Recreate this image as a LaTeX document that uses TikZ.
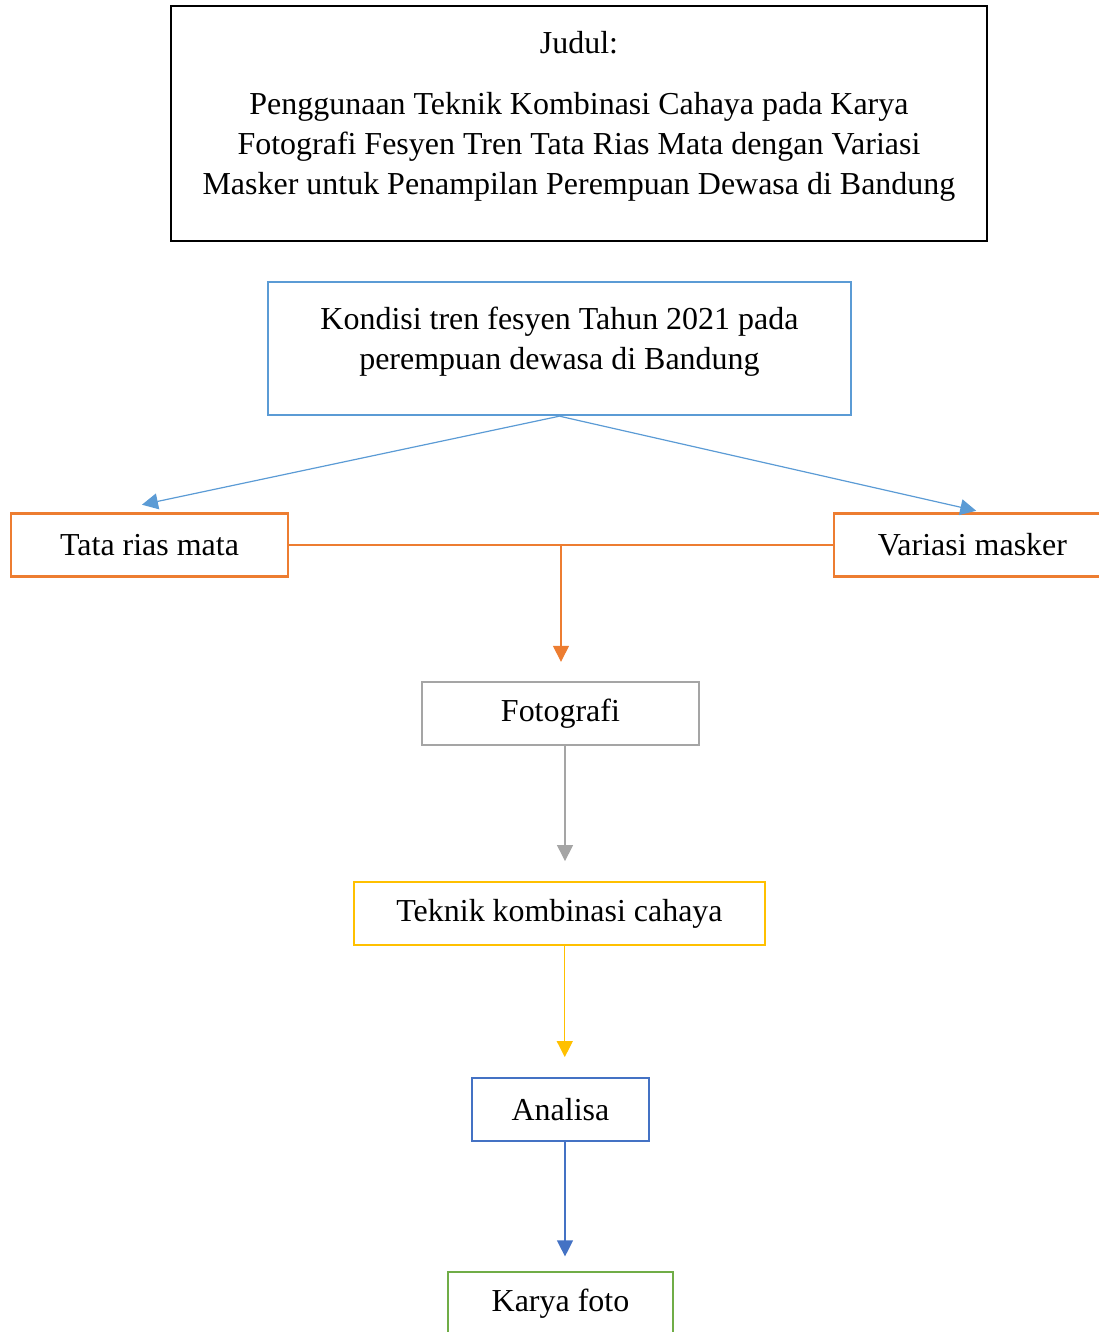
\documentclass[tikz,border=0pt]{standalone}
\usepackage{fontspec}
\setmainfont{Liberation Serif}
\usepackage{tikz}
\usetikzlibrary{arrows.meta}
\definecolor{lightblue}{HTML}{5B9BD5}
\definecolor{darkorange}{HTML}{ED7D31}
\definecolor{midgray}{HTML}{A5A5A5}
\definecolor{gold}{HTML}{FFC000}
\definecolor{darkblue}{HTML}{4472C4}
\definecolor{leafgreen}{HTML}{70AD47}
\tikzset{>={Triangle[length=6pt,width=6pt]}}
\tikzset{
  box/.style={draw, line width=0.9pt, minimum height=0.831cm, inner sep=0pt,
    align=center, font=\fontsize{12}{15}\selectfont},
  link/.style={line width=0.45pt}
}

\begin{document}
\begin{tikzpicture}
\useasboundingbox (0,0) rectangle (14.5,17.575);

% Title
\node[box, draw=black, minimum width=10.766cm, minimum height=3.101cm, text depth=8pt] (judul) at (7.639,15.946)
  {Judul:\\[8pt]
   Penggunaan Teknik Kombinasi Cahaya pada Karya\\
   Fotografi Fesyen Tren Tata Rias Mata dengan Variasi\\
   Masker untuk Penampilan Perempuan Dewasa di Bandung};

% Boxes
\node[box, draw=lightblue, minimum width=7.692cm, minimum height=1.755cm, text depth=8pt] (kondisi) at (7.382,12.977)
  {Kondisi tren fesyen Tahun 2021 pada\\ perempuan dewasa di Bandung};
\node[box, draw=darkorange, minimum width=3.655cm] (tata) at (1.973,10.384) {Tata rias mata};
\node[box, draw=darkorange, minimum width=3.655cm] (variasi) at (12.831,10.384) {Variasi masker};
\node[box, draw=midgray, minimum width=3.655cm] (foto) at (7.395,8.161) {Fotografi};
\node[box, draw=gold, minimum width=5.423cm] (teknik) at (7.382,5.522) {Teknik kombinasi cahaya};
\node[box, draw=darkblue, minimum width=2.335cm] (analisa) at (7.395,2.936) {Analisa};
\node[box, draw=leafgreen, minimum width=2.969cm] (karya) at (7.395,0.376) {Karya foto};

% Arrows
\draw[link, lightblue, ->] (kondisi.south) -- ([shift={(-0.1,0.1)}]tata.north);
\draw[link, lightblue, ->] (kondisi.south) -- ([shift={(0.05,0.02)}]variasi.north);

\draw[link, darkorange] (tata.east) -- coordinate[midway] (join) (variasi.west);
\draw[link, darkorange, ->, shorten >=0.25cm] (join) -- (join |- foto.north);

\draw[link, midgray, ->, shorten >=0.26cm] ([xshift=0.06cm]foto.south) coordinate (fs) -- (fs |- teknik.north);
\draw[link, gold, ->, shorten >=0.26cm] ([xshift=0.07cm]teknik.south) coordinate (ts) -- (ts |- analisa.north);
\draw[link, darkblue, ->, shorten >=0.19cm] ([xshift=0.06cm]analisa.south) coordinate (as) -- (as |- karya.north);

\end{tikzpicture}
\end{document}
